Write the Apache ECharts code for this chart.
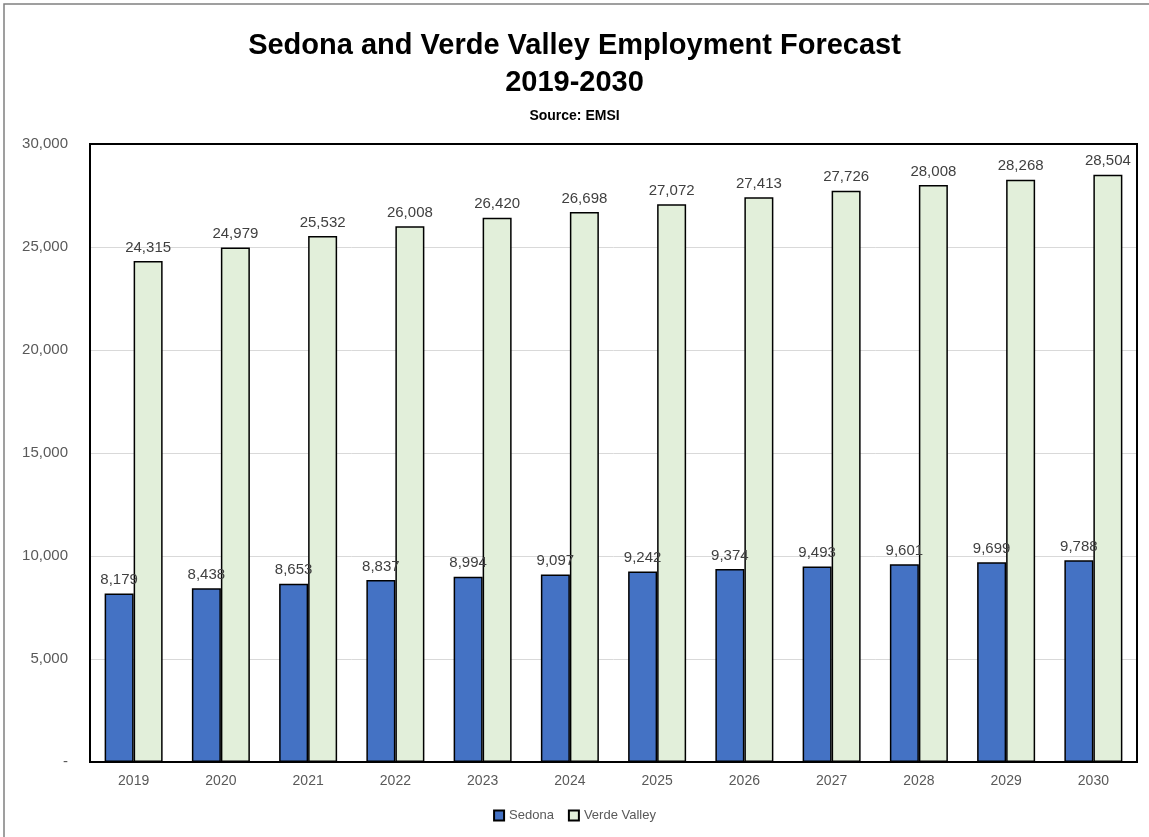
<!DOCTYPE html>
<html><head><meta charset="utf-8">
<script src="https://cdn.jsdelivr.net/npm/echarts@6/dist/echarts.min.js"></script>
<style>html,body{margin:0;padding:0;background:#fff}#c{width:1149px;height:837px}</style>
</head><body><div id="c"></div>
<script>
const years = ['2019','2020','2021','2022','2023','2024','2025','2026','2027','2028','2029','2030'];
const sedona = [8179,8438,8653,8837,8994,9097,9242,9374,9493,9601,9699,9788];
const verde = [24315,24979,25532,26008,26420,26698,27072,27413,27726,28008,28268,28504];
const yTicks = [0,5000,10000,15000,20000,25000,30000];

const fmt = v => v === 0 ? '-' : v.toLocaleString('en-US');
const font = '"Liberation Sans Narrow","Liberation Sans",sans-serif';
const chart = echarts.init(document.getElementById('c'));
chart.setOption({
  animation:false,
  graphic:[
    {type:'rect',shape:{x:4,y:4,width:1160,height:850},style:{fill:'none',stroke:'#808080',lineWidth:1.5},z:-1},
    {type:'rect',shape:{x:90,y:144,width:1047,height:618},style:{fill:'none',stroke:'#000',lineWidth:2},z:10}
  ],
  title:[
    {text:'Sedona and Verde Valley Employment Forecast',left:'center',top:26,textStyle:{fontFamily:font,fontSize:29,fontWeight:'bold',color:'#000'}},
    {text:'2019-2030',left:'center',top:63,textStyle:{fontFamily:font,fontSize:29,fontWeight:'bold',color:'#000'}},
    {text:'Source: EMSI',left:'center',top:104,textStyle:{fontFamily:font,fontSize:14,fontWeight:'bold',color:'#000'}}
  ],
  legend:{bottom:10,left:'center',itemWidth:10,itemHeight:10,itemGap:14,
    textStyle:{fontFamily:font,fontSize:13,color:'#595959'},
    data:[{name:'Sedona',icon:'rect'},{name:'Verde Valley',icon:'rect'}]},
  grid:{left:90,right:12,top:144,bottom:75},
  xAxis:{type:'category',data:years,axisTick:{show:false},
    axisLine:{lineStyle:{color:'#000',width:2}},
    axisLabel:{fontFamily:font,fontSize:14,color:'#595959',margin:12}},
  yAxis:{type:'value',min:0,max:30000,interval:5000,
    axisLine:{show:false},axisTick:{show:false},
    splitLine:{lineStyle:{color:'#d9d9d9',width:1}},
    axisLabel:{fontFamily:font,fontSize:15,color:'#595959',margin:22,formatter:v=>fmt(v)}},
  series:[
    {name:'Sedona',type:'bar',data:sedona,barWidth:29,barGap:'0%',
      itemStyle:{color:'#4472c4',borderColor:'#000',borderWidth:1.5},
      label:{show:true,position:'top',distance:6,fontFamily:font,fontSize:15,color:'#404040',formatter:p=>fmt(p.value)}},
    {name:'Verde Valley',type:'bar',data:verde,barWidth:29,
      itemStyle:{color:'#e2efda',borderColor:'#000',borderWidth:1.5},
      label:{show:true,position:'top',distance:6,fontFamily:font,fontSize:15,color:'#404040',formatter:p=>fmt(p.value)}}
  ]
});
</script></body></html>
